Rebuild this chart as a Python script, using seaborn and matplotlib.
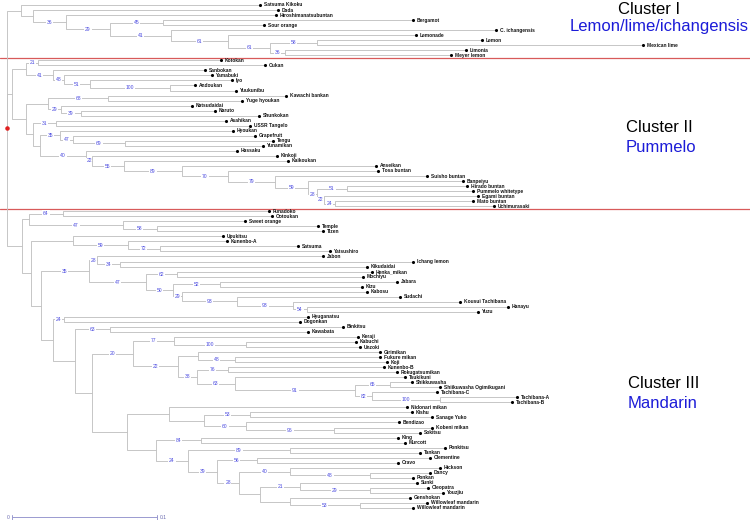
import numpy as np
import pandas as pd
import seaborn as sns
import matplotlib.pyplot as plt

# leaves, top to bottom, with distance from the root
leaf_names = [
    "Satsuma Kikoku", "Dada", "Hiroshimanatsubuntan", "Bergamot", "Sour orange",
    "C. ichangensis", "Lemonade", "Lemon", "Mexican lime", "Limonia", "Meyer lemon",
    "Kotokan", "Oukan", "Sanbokan", "Yamabuki", "Iyo", "Andoukan", "Yuukunibu",
    "Kawachi bankan", "Yuge hyoukan", "Natsudaidai", "Naruto", "Shunkokan",
    "Asahikan", "USSR Tangelo", "Hyoukan", "Grapefruit", "Tengu", "Yunamikan",
    "Hassaku", "Kinkoji", "Kaikoukan", "Anseikan", "Tosa buntan", "Suisho buntan",
    "Banpeiyu", "Hirado buntan", "Pummelo whitetype", "Egami buntan", "Mato buntan",
    "Uchimurasaki",
    "Funadoko", "Ootoukan", "Sweet orange", "Temple", "Tizen", "Upukitsu",
    "Kunenbo-A", "Satsuma", "Yatsushiro", "Jabon", "Ichang lemon", "Kikudaidai",
    "Henka_mikan", "Mochiyu", "Jabara", "Kizu", "Kabosu", "Sudachi",
    "Kousui Tachibana", "Hanayu", "Yuzu", "Hyuganatsu", "Dogonkan", "Binkitsu",
    "Kawabata", "Keraji", "Kabuchi", "Unzoki", "Girimikan", "Fukure mikan", "Koji",
    "Kunenbo-B", "Rokugatsumikan", "Tsukikuni", "Shikkuwasha",
    "Shiikuwasha Ogimikugani", "Tachibana-C", "Tachibana-A", "Tachibana-B",
    "Nidonari mikan", "Kishu", "Sanage Yuko", "Bendizao", "Kobeni mikan", "Sokitsu",
    "King", "Murcott", "Ponkitsu", "Tankan", "Clementine", "Cravo", "Hickson",
    "Dancy", "Ponkan", "Sunki", "Cleopatra", "Youzjiu", "Genshokan",
    "Willowleaf mandarin", "Willowleaf mandarin",
]
leaf_dist = [
    0.1745, 0.1869, 0.1855, 0.2800, 0.1772, 0.3372, 0.2821, 0.3276, 0.4386, 0.3166, 0.3062,
    0.1476, 0.1779, 0.1366, 0.1414, 0.1552, 0.1297, 0.1579, 0.1924, 0.1621, 0.1276,
    0.1434, 0.1738, 0.1510, 0.1676, 0.1559, 0.1710, 0.1834, 0.1766, 0.1586, 0.1862,
    0.1938, 0.2545, 0.2559, 0.2897, 0.3145, 0.3172, 0.3214, 0.3248, 0.3214, 0.3359,
    0.1807, 0.1828, 0.1641, 0.2145, 0.2179, 0.1490, 0.1517, 0.2007, 0.2228, 0.2179,
    0.2800, 0.2483, 0.2517, 0.2455, 0.2690, 0.2448, 0.2483, 0.2710, 0.3124, 0.3455,
    0.3248, 0.2076, 0.2021, 0.2317, 0.2076, 0.2421, 0.2407, 0.2434, 0.2572, 0.2572,
    0.2621, 0.2600, 0.2690, 0.2745, 0.2793, 0.2986, 0.2966, 0.3517, 0.3483, 0.2759,
    0.2793, 0.2931, 0.2703, 0.2931, 0.2848, 0.2697, 0.2745, 0.3021, 0.2848, 0.2917,
    0.2697, 0.2986, 0.2917, 0.2800, 0.2828, 0.2903, 0.3007, 0.2779, 0.2897, 0.2800,
]

# inner nodes: id, distance from root, bootstrap label, children (leaf index or node id)
node_ids = [
    "root", "cI", "nB", "nC", "nD", "nE", "nF", "nG", "nH", "nI", "nJ",
    "cII", "nIIa", "n21a", "n41", "n48", "n51", "n100", "nIIr", "nK", "n68", "n29",
    "n39", "nP", "n31", "nQ", "n35", "n47b", "n69", "n40", "n22", "n55", "n89",
    "n70", "n79", "n59", "n28", "n51b", "n22b", "n24",
    "cIII", "n29c", "n64", "n47c", "n58", "n31c", "n73", "n59c", "n72", "n41c",
    "n35c", "n28c", "n34", "n47d", "n62", "n50", "n52", "n29d", "n93a", "n93b",
    "n54", "n53", "n24c", "n75", "n63", "n92", "n20", "n77", "n100b", "n22c",
    "nGF", "n48c", "n38", "n76", "n63b", "n91", "n65", "n82", "n100c", "n127",
    "n169", "n204", "n53b", "n60", "n96", "n156", "n84", "n24d", "n89c", "n39c",
    "n56", "n28d", "n40c", "n48d", "nLow", "n21c", "n29e", "nG2", "n53c",
]
node_dist = [
    0.0, 0.0097, 0.0179, 0.0407, 0.0710, 0.1076, 0.1131, 0.1524, 0.1814, 0.2138, 0.1917,
    0.0034, 0.0131, 0.0214, 0.0317, 0.0393, 0.0572, 0.1124, 0.0131, 0.0283, 0.0697, 0.0372,
    0.0510, 0.0179, 0.0338, 0.0228, 0.0366, 0.0455, 0.0814, 0.0545, 0.0586, 0.0807, 0.1207,
    0.1524, 0.1848, 0.2076, 0.2138, 0.2345, 0.2186, 0.2262,
    0.0103, 0.0152, 0.0386, 0.0800, 0.1034, 0.0166, 0.0455, 0.0834, 0.1055, 0.0234,
    0.0566, 0.0621, 0.0779, 0.0959, 0.1172, 0.1145, 0.1469, 0.1207, 0.1586, 0.1972,
    0.2069, 0.0317, 0.0393, 0.0469, 0.0710, 0.0586, 0.0869, 0.1152, 0.1648, 0.1179,
    0.1317, 0.1572, 0.1310, 0.1524, 0.1572, 0.2400, 0.2641, 0.2517, 0.2986, 0.0828,
    0.1117, 0.1359, 0.1676, 0.1648, 0.2255, 0.1028, 0.1338, 0.1248, 0.1952, 0.1448,
    0.1724, 0.1600, 0.1952, 0.2503, 0.1745, 0.2021, 0.2503, 0.1952, 0.2434,
]
node_support = [
    "", "", "", "36", "29", "45", "41", "61", "61", "58", "36",
    "", "", "21", "41", "48", "51", "100", "", "", "68", "29",
    "39", "", "31", "", "35", "47", "69", "40", "22", "55", "89",
    "70", "79", "59", "28", "51", "22", "24",
    "", "", "64", "47", "58", "", "", "59", "72", "",
    "35", "28", "34", "47", "62", "50", "52", "29", "93", "93",
    "54", "", "24", "", "63", "", "20", "77", "100", "22",
    "", "48", "38", "76", "63", "91", "65", "82", "100", "",
    "", "", "53", "60", "96", "", "84", "24", "89", "39",
    "56", "28", "40", "48", "", "21", "29", "", "53",
]
node_children = [
    ["cI", "cII", "cIII"], [0, "nB"], [1, "nC"], [2, "nD"], ["nE", "nF"], [3, 4],
    [5, "nG"], [6, "nH"], ["nI", "nJ"], [7, 8], [9, 10],
    ["nIIa", "nIIr"], ["n21a", "n41"], [11, 12], [13, "n48"], [14, "n51"], [15, "n100"],
    [16, 17], ["nK", "nP"], ["n68", "n29"], [18, 19], [20, "n39"], [21, 22],
    ["n31", "nQ"], [23, 24], ["n35", "n40"], [25, "n47b"], [26, "n69"], [27, 28],
    [29, "n22"], [30, "n55"], [31, "n89"], [32, "n70"], [33, "n79"], [34, "n59"],
    [35, "n28"], ["n51b", "n22b"], [36, 37], [38, "n24"], [39, 40],
    ["n29c", "n31c"], ["n64", "n47c"], [41, 42], [43, "n58"], [44, 45],
    ["n73", "n41c"], [46, "n59c"], [47, "n72"], [48, 49], ["n35c", "n53"],
    ["n28c", "n47d"], [50, "n34"], [51, 52], ["n62", "n50"], [53, 54],
    ["n52", "n29d"], [55, 56], [57, "n93a"], [58, "n93b"], [59, "n54"], [60, 61],
    ["n24c", "n75"], [62, 63], ["n63", "n92"], [64, 65], ["n20", "n127"],
    ["n77", "n22c"], [66, "n100b"], [67, 68], ["nGF", "n38"], [69, "n48c"], [70, 71],
    ["n76", "n63b"], [72, 73], [74, "n91"], ["n65", "n82"], [75, 76], [77, "n100c"],
    [78, 79], ["n169", "n156"], [80, "n204"], ["n53b", "n60"], [81, 82], [83, "n96"],
    [84, 85], ["n84", "n24d"], [86, 87], ["n89c", "n39c"], [88, 89], ["n56", "n28d"],
    [90, 91], ["n40c", "nLow"], [92, "n48d"], [93, 94], ["n21c", "nG2"], [95, "n29e"],
    [96, 97], [98, "n53c"], [99, 100],
]

cluster_breaks = [10.5, 40.5]   # between the leaf rows of the three clusters
scale_len = 0.1

dist = dict(zip(node_ids, node_dist))
kids = dict(zip(node_ids, node_children))
for i, d in enumerate(leaf_dist):
    dist[i] = d

ypos = {}
def get_y(key):
    if key in ypos:
        return ypos[key]
    if isinstance(key, int):
        y = float(key)
    else:
        ys = [get_y(c) for c in kids[key]]
        y = (min(ys) + max(ys)) / 2
    ypos[key] = y
    return y

for k in node_ids:
    get_y(k)

rows = []
labels = []
seg = 0
for p in node_ids:
    for c in kids[p]:
        xp, yp, xc, yc = dist[p], ypos[p], dist[c], ypos[c]
        for x, y in [(xp, yp), (xp, yc), (xc, yc)]:
            rows.append({"x": x, "y": y, "seg": seg})
        seg += 1
        if not isinstance(c, int):
            labels.append(((xp + xc) / 2, yc, node_support[node_ids.index(c)]))
branches = pd.DataFrame(rows)

sns.set_style("white")
plt.rcParams["font.family"] = ["Liberation Sans", "DejaVu Sans"]

fig = plt.figure(figsize=(7.5, 5.2), dpi=100)
ax = fig.add_axes([0, 0, 1, 1])

sns.lineplot(data=branches, x="x", y="y", units="seg", estimator=None, sort=False,
             color="#c2c2c2", linewidth=0.65, ax=ax, legend=False)

for yb in cluster_breaks:
    ax.axhline(yb, color="#d85a5a", linewidth=0.9, zorder=1)

leaves = pd.DataFrame({"x": leaf_dist, "y": np.arange(len(leaf_names))})
sns.scatterplot(data=leaves, x="x", y="y", color="black", s=5, linewidth=0, ax=ax, zorder=3)
for name, x, y in zip(leaf_names, leaf_dist, leaves["y"]):
    ax.text(x + 0.0025, y, name, fontsize=3.5, fontweight="bold", color="#151515",
            va="center", ha="left")

for x, y, s in labels:
    if s:
        ax.text(x, y, s, fontsize=3.6, color="#4a4ae0", ha="center", va="center",
                bbox=dict(boxstyle="square,pad=0.15", fc="white", ec="none"), zorder=4)

ax.scatter([0], [ypos["root"]], color="#e02020", s=5, zorder=5)

# scale bar
x0, yb = 0.0035, 101.8
ax.plot([x0, x0 + scale_len], [yb, yb], color="#9a9ad0", linewidth=0.7)
for xe in (x0, x0 + scale_len):
    ax.plot([xe, xe], [yb - 0.5, yb + 0.5], color="#9a9ad0", linewidth=0.7)
ax.text(x0 - 0.002, yb, "0", fontsize=3.6, color="#6a6ab0", ha="right", va="center")
ax.text(x0 + scale_len + 0.002, yb, "0.1", fontsize=3.6, color="#6a6ab0", ha="left", va="center")

# cluster names
blue = "#1c1cd8"
fig.text(618 / 750, 1 - 9 / 520, "Cluster I", fontsize=12, color="black", ha="left", va="center")
fig.text(570 / 750, 1 - 26 / 520, "Lemon/lime/ichangensis", fontsize=12, color=blue, ha="left", va="center")
fig.text(626 / 750, 1 - 128 / 520, "Cluster II", fontsize=12, color="black", ha="left", va="center")
fig.text(626 / 750, 1 - 148 / 520, "Pummelo", fontsize=12, color=blue, ha="left", va="center")
fig.text(628 / 750, 1 - 383 / 520, "Cluster III", fontsize=12, color="black", ha="left", va="center")
fig.text(628 / 750, 1 - 403 / 520, "Mandarin", fontsize=12, color=blue, ha="left", va="center")

ax.set_xlim(-7 / 1450, 743 / 1450)
ax.set_ylim(102.39, -0.994)
ax.axis("off")

fig.savefig("out.png", dpi=100)
